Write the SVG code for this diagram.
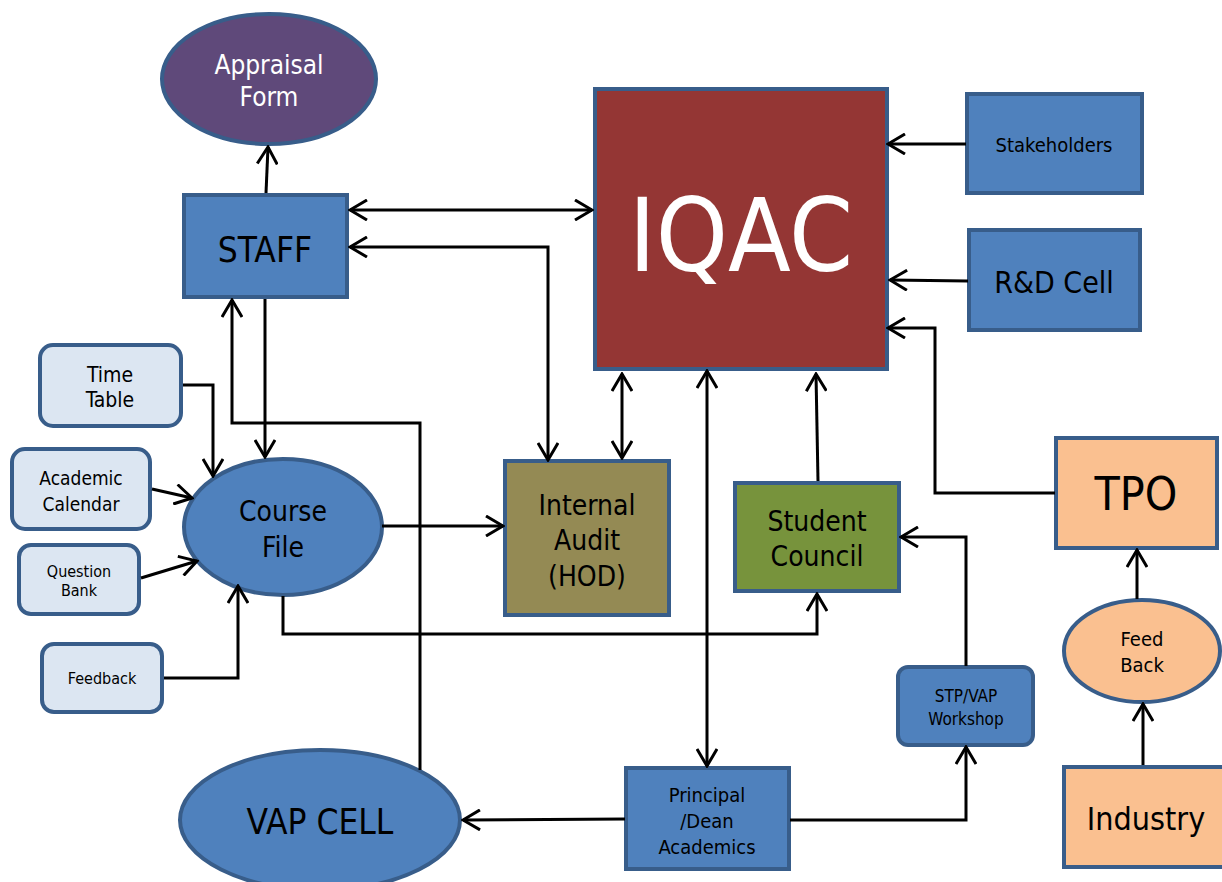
<svg xmlns="http://www.w3.org/2000/svg" width="1222" height="882" viewBox="0 0 1222 882">
<defs>
<marker id="ah" viewBox="0 0 20 22" refX="18" refY="11" markerWidth="20" markerHeight="22" markerUnits="userSpaceOnUse" orient="auto-start-reverse">
<path d="M1,1 L18,11 L1,21" fill="none" stroke="#000" stroke-width="3"/>
</marker>
<style>
text{font-family:"DejaVu Sans Condensed","DejaVu Sans",sans-serif;text-anchor:middle;fill:#000}
.nb{stroke:#385D8A;stroke-width:4}
.blue{fill:#4F81BD}
.light{fill:#DCE6F2}
.peach{fill:#FAC090}
.c path,.c line{fill:none;stroke:#000;stroke-width:3}
</style>
</defs>
<rect width="1222" height="882" fill="#fff"/>

<g id="appraisal"><ellipse class="nb" cx="269" cy="79" rx="107" ry="65" fill="#5F497A"/>
<text x="269" y="74" font-size="26" style="fill:#fff">Appraisal</text><text x="269" y="106" font-size="26" style="fill:#fff">Form</text></g>

<g id="staff"><rect class="nb blue" x="184" y="195" width="163" height="102"/><text x="265" y="262" font-size="35">STAFF</text></g>

<g id="iqac"><rect class="nb" x="595" y="89" width="292" height="280" fill="#943634"/><text x="741" y="271" font-size="102" style="fill:#fff">IQAC</text></g>

<g id="stakeholders"><rect class="nb blue" x="967" y="94" width="175" height="99"/><text x="1054" y="152" font-size="20">Stakeholders</text></g>

<g id="rnd"><rect class="nb blue" x="969" y="230" width="171" height="100"/><text x="1054" y="293" font-size="30">R&amp;D Cell</text></g>

<g id="tpo"><rect class="nb peach" x="1056" y="438" width="161" height="110"/><text x="1136" y="510" font-size="46">TPO</text></g>

<g id="feedback2"><ellipse class="nb peach" cx="1142" cy="651" rx="78" ry="51"/><text x="1142" y="646" font-size="20">Feed</text><text x="1142" y="672" font-size="20">Back</text></g>

<g id="industry"><rect class="nb peach" x="1064" y="767" width="165" height="100"/><text x="1146" y="830" font-size="32">Industry</text></g>

<g id="stp"><rect class="nb blue" x="898" y="667" width="135" height="78" rx="10"/><text x="966" y="702" font-size="17">STP/VAP</text><text x="966" y="725" font-size="17">Workshop</text></g>

<g id="student"><rect class="nb" x="735" y="483" width="164" height="108" fill="#77933C"/><text x="817" y="531" font-size="28">Student</text><text x="817" y="566" font-size="28">Council</text></g>

<g id="audit"><rect class="nb" x="505" y="461" width="164" height="154" fill="#948A54"/><text x="587" y="515" font-size="28">Internal</text><text x="587" y="550" font-size="28">Audit</text><text x="587" y="586" font-size="28">(HOD)</text></g>

<g id="coursefile"><ellipse class="nb blue" cx="283" cy="527" rx="99" ry="68"/><text x="283" y="521" font-size="28">Course</text><text x="283" y="557" font-size="28">File</text></g>

<g id="timetable"><rect class="nb light" x="40" y="345" width="141" height="81" rx="13"/><text x="110" y="382" font-size="21">Time</text><text x="110" y="407" font-size="21">Table</text></g>

<g id="calendar"><rect class="nb light" x="12" y="449" width="138" height="80" rx="13"/><text x="81" y="485" font-size="19">Academic</text><text x="81" y="511" font-size="19">Calendar</text></g>

<g id="qbank"><rect class="nb light" x="19" y="545" width="120" height="69" rx="12"/><text x="79" y="577" font-size="16">Question</text><text x="79" y="596" font-size="16">Bank</text></g>

<g id="feedback"><rect class="nb light" x="42" y="644" width="120" height="68" rx="12"/><text x="102" y="684" font-size="16">Feedback</text></g>

<g id="vapcell"><ellipse class="nb blue" cx="320" cy="820" rx="140" ry="70"/><text x="320" y="834" font-size="35">VAP CELL</text></g>

<g id="principal"><rect class="nb blue" x="626" y="768" width="163" height="101"/><text x="707" y="802" font-size="20">Principal</text><text x="707" y="828" font-size="20">/Dean</text><text x="707" y="854" font-size="20">Academics</text></g>

<g id="connectors" class="c">
<line x1="266" y1="193" x2="268" y2="147" marker-end="url(#ah)"/>
<line x1="350" y1="210" x2="592" y2="210" marker-start="url(#ah)" marker-end="url(#ah)"/>
<path d="M548,460 V247 H350" marker-start="url(#ah)" marker-end="url(#ah)"/>
<line x1="622" y1="374" x2="622" y2="458" marker-start="url(#ah)" marker-end="url(#ah)"/>
<line x1="707" y1="371" x2="707" y2="766" marker-start="url(#ah)" marker-end="url(#ah)"/>
<line x1="818" y1="481" x2="816" y2="374" marker-end="url(#ah)"/>
<line x1="966" y1="144" x2="888" y2="144" marker-end="url(#ah)"/>
<line x1="968" y1="281" x2="890" y2="280" marker-end="url(#ah)"/>
<path d="M1055,493 H935 V328 H888" marker-end="url(#ah)"/>
<line x1="1137" y1="599" x2="1137" y2="550" marker-end="url(#ah)"/>
<line x1="1143" y1="765" x2="1143" y2="704" marker-end="url(#ah)"/>
<path d="M966,666 V537 H901" marker-end="url(#ah)"/>
<path d="M790,820 H966 V747" marker-end="url(#ah)"/>
<line x1="625" y1="819" x2="463" y2="820" marker-end="url(#ah)"/>
<path d="M283,596 V634 H817 V594" marker-end="url(#ah)"/>
<line x1="382" y1="526" x2="503" y2="526" marker-end="url(#ah)"/>
<line x1="265" y1="299" x2="265" y2="457" marker-end="url(#ah)"/>
<path d="M420,770 V423 H232 V300" marker-end="url(#ah)"/>
<path d="M183,385 H213 V476" marker-end="url(#ah)"/>
<line x1="152" y1="489" x2="192" y2="498" marker-end="url(#ah)"/>
<line x1="141" y1="578" x2="197" y2="561" marker-end="url(#ah)"/>
<path d="M164,678 H238 V586" marker-end="url(#ah)"/>
</g>
</svg>
